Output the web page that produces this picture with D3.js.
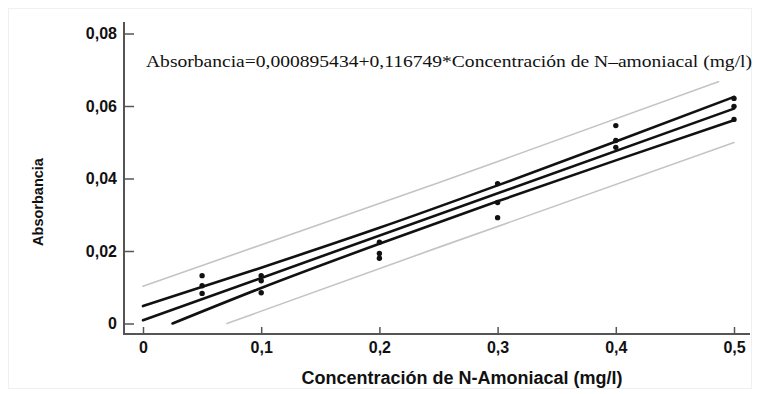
<!DOCTYPE html>
<html><head><meta charset="utf-8">
<script src="https://cdn.jsdelivr.net/npm/d3@7"></script>
<style>body{margin:0;background:#fff}</style>
</head><body>
<script>
// ---- data ----
const xTickValues = [0, 0.1, 0.2, 0.3, 0.4, 0.5];
const xTickLabels = ["0", "0,1", "0,2", "0,3", "0,4", "0,5"];
const yTickValues = [0, 0.02, 0.04, 0.06, 0.08];
const yTickLabels = ["0", "0,02", "0,04", "0,06", "0,08"];

const pointConc = [0.05,0.05,0.05, 0.1,0.1,0.1, 0.2,0.2,0.2, 0.3,0.3,0.3, 0.4,0.4,0.4, 0.5,0.5,0.5];
const pointAbs  = [0.0132,0.0104,0.0083, 0.0132,0.0118,0.0085, 0.0224,0.0193,0.0180, 0.0386,0.0334,0.0292, 0.0546,0.0505,0.0486, 0.0621,0.0599,0.0563];

const fitConc = [0, 0.5];
const fitAbs  = [0.000895, 0.059270];

const ciUpperConc = [0, 0.1, 0.2, 0.3, 0.4, 0.5];
const ciUpperAbs  = [0.0048, 0.0154, 0.0264, 0.0381, 0.0502, 0.0625];
const ciLowerConc = [0.025, 0.1, 0.2, 0.3, 0.4, 0.5];
const ciLowerAbs  = [0.0, 0.0098, 0.0220, 0.0337, 0.0450, 0.0561];

const piUpperConc = [0, 0.25, 0.487];
const piUpperAbs  = [0.0103, 0.0388, 0.0667];
const piLowerConc = [0.071, 0.25, 0.5];
const piLowerAbs  = [0.0, 0.0210, 0.0499];

const equationText = "Absorbancia=0,000895434+0,116749*Concentración de N\u2013amoniacal (mg/l)";
const xTitle = "Concentración de N-Amoniacal (mg/l)";
const yTitle = "Absorbancia";

// ---- drawing ----
const W = 760, H = 394;
const svg = d3.select("body").append("svg").attr("width", W).attr("height", H);

svg.append("rect").attr("x", 8.5).attr("y", 8.5).attr("width", 743).attr("height", 380)
  .attr("fill", "none").attr("stroke", "#f0f0f0").attr("stroke-width", 1);

const x = d3.scaleLinear().domain([0, 0.5]).range([143, 734]);
const y = d3.scaleLinear().domain([0, 0.08]).range([323.5, 33.5]);

const axisColor = "#555";
const xAxisY = 334, yAxisX = 124;
const sansFont = "Liberation Sans, Arial, sans-serif";

// axis lines
svg.append("line").attr("x1", yAxisX).attr("x2", yAxisX).attr("y1", 22).attr("y2", xAxisY + 1)
  .attr("stroke", axisColor).attr("stroke-width", 2);
svg.append("line").attr("x1", yAxisX - 1).attr("x2", 750).attr("y1", xAxisY).attr("y2", xAxisY)
  .attr("stroke", axisColor).attr("stroke-width", 2);

const yAxis = d3.axisLeft(y).tickValues(yTickValues)
  .tickFormat((d, i) => yTickLabels[i]).tickSizeInner(-10).tickSizeOuter(0).tickPadding(7);
const gy = svg.append("g").attr("transform", `translate(${yAxisX},0)`).call(yAxis);
gy.select(".domain").remove();
gy.selectAll(".tick line").attr("stroke", axisColor).attr("stroke-width", 1.5);
gy.selectAll(".tick text").attr("font-family", sansFont)
  .attr("font-weight", "bold").attr("font-size", 16).attr("fill", "#111");

const xAxis = d3.axisBottom(x).tickValues(xTickValues)
  .tickFormat((d, i) => xTickLabels[i]).tickSizeInner(-7).tickSizeOuter(0).tickPadding(8);
const gx = svg.append("g").attr("transform", `translate(0,${xAxisY})`).call(xAxis);
gx.select(".domain").remove();
gx.selectAll(".tick line").attr("stroke", axisColor).attr("stroke-width", 1.5);
gx.selectAll(".tick text").attr("font-family", sansFont)
  .attr("font-weight", "bold").attr("font-size", 16).attr("fill", "#111");

// titles
svg.append("text").attr("x", 462).attr("y", 384).attr("text-anchor", "middle")
  .attr("font-family", sansFont).attr("font-weight", "bold")
  .attr("font-size", 18).attr("fill", "#111").text(xTitle);
svg.append("text").attr("transform", "translate(43,202) rotate(-90)").attr("text-anchor", "middle")
  .attr("font-family", sansFont).attr("font-weight", "bold")
  .attr("font-size", 14.5).attr("fill", "#111").text(yTitle);

// equation
svg.append("text").attr("x", 146).attr("y", 67)
  .attr("font-family", "Liberation Serif, Times New Roman, serif").attr("font-size", 17)
  .attr("textLength", 606).attr("lengthAdjust", "spacingAndGlyphs")
  .attr("fill", "#111").text(equationText);

// lines
const line = d3.line().x(d => x(d[0])).y(d => y(d[1])).curve(d3.curveMonotoneX);
function drawLine(cx, cy, color, width) {
  svg.append("path").datum(cx.map((c, i) => [c, cy[i]])).attr("d", line)
    .attr("fill", "none").attr("stroke", color).attr("stroke-width", width)
    .attr("stroke-linecap", "round");
}
drawLine(piUpperConc, piUpperAbs, "#c4c4c4", 1.6);
drawLine(piLowerConc, piLowerAbs, "#c4c4c4", 1.6);
drawLine(ciUpperConc, ciUpperAbs, "#111", 2.6);
drawLine(ciLowerConc, ciLowerAbs, "#111", 2.6);
drawLine(fitConc, fitAbs, "#111", 2.6);

// points
svg.append("g").selectAll("circle").data(pointConc.map((c, i) => [c, pointAbs[i]]))
  .join("circle").attr("cx", d => x(d[0])).attr("cy", d => y(d[1])).attr("r", 2.7)
  .attr("fill", "#111");
</script>
</body></html>
